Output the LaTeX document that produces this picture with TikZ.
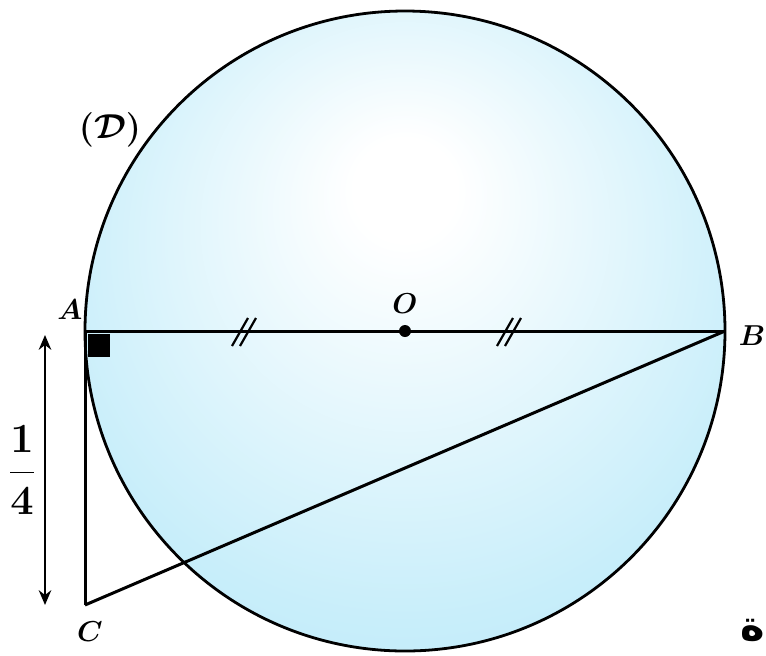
\documentclass[tikz,border=0pt]{standalone}
\usepackage{fontspec}
\newfontfamily\arabicfont[Script=Arabic]{DejaVu Sans}
\TeXXeTstate=1
\usetikzlibrary{arrows.meta}
\definecolor{discSky}{RGB}{168,226,244}
\definecolor{discMid}{RGB}{200,238,250}
\pgfdeclareradialshading{discfill}{\pgfpoint{0bp}{12bp}}{color(0bp)=(white); color(4bp)=(white); color(28bp)=(discMid); color(50bp)=(discSky)}
\begin{document}
\begin{tikzpicture}[x=0.5pt,y=-0.5pt,
  lbl/.style={font=\Large\boldmath,inner sep=1pt},
  seg/.style={line width=1.5pt,black},
  tk/.style={line width=1.1pt},
  ar/.style={{Stealth[length=2.6mm,width=2.2mm]}-{Stealth[length=2.6mm,width=2.2mm]},line width=1pt}]
  \useasboundingbox (0,0) rectangle (766,655);
  \coordinate (O) at (405,331);
  \coordinate (A) at (85,331);
  \coordinate (B) at (725,331);
  \coordinate (C) at (85,605);
  \coordinate (top) at (45,335);
  \coordinate (bot) at (45,605);

  \shade[shading=discfill,draw=black,line width=1.4pt] (O) circle[radius=320];
  \fill[black] (88,334) rectangle (110,357);
  \draw[seg] (A) -- (B);
  \draw[seg] (A) -- (C);
  \draw[seg] (C) -- (B);
  \fill (O) circle[radius=6];
  \foreach \t in {240,248,505,513}
    \draw[tk] (\t-8,346) -- (\t+8,318);
  \draw[ar] (top) -- (bot);

  \node[lbl] (labA) at (70,310) {$A$};
  \node[lbl] (labO) at (405,304) {$O$};
  \node[lbl] (labB) at (752,336) {$B$};
  \node[lbl] (labC) at (90,632) {$C$};
  \node[lbl,font=\LARGE\boldmath] (labD) at (110,130) {$(\mathcal{D})$};
  \node[font=\huge\boldmath,inner sep=0pt] (frac) at (22,470) {$\displaystyle\frac{1}{4}$};
  \node[font=\huge\bfseries,anchor=west,inner sep=0pt] (tail) at (740,630) {\arabicfont\beginR ة\endR};
\end{tikzpicture}
\end{document}
